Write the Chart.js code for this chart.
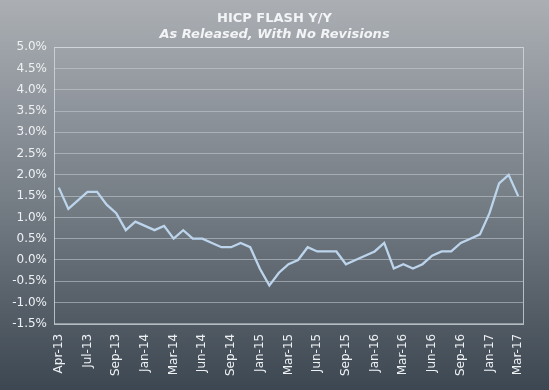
<!DOCTYPE html>
<html>
<head>
<meta charset="utf-8">
<script src="https://cdn.jsdelivr.net/npm/chart.js@4.4.1/dist/chart.umd.min.js"></script>
<style>
  html, body { margin: 0; padding: 0; }
  body { width: 549px; height: 390px; overflow: hidden; }
  #wrap { width: 549px; height: 390px; }
</style>
</head>
<body>
<div id="wrap"><canvas id="hicpChart"></canvas></div>
<script>
// HICP flash y/y, as released (%), one value per month
const values = [
  1.7, 1.2, 1.4, 1.6, 1.6, 1.3, 1.1, 0.7, 0.9, 0.8, 0.7, 0.8,
  0.5, 0.7, 0.5, 0.5, 0.4, 0.3, 0.3, 0.4, 0.3, -0.2, -0.6, -0.3,
  -0.1, 0.0, 0.3, 0.2, 0.2, 0.2, -0.1, 0.0, 0.1, 0.2, 0.4, -0.2,
  -0.1, -0.2, -0.1, 0.1, 0.2, 0.2, 0.4, 0.5, 0.6, 1.1, 1.8, 2.0, 1.5
];

// labels shown on every third month, as on the original axis
const tickLabels = [
  "Apr-13", "Jul-13", "Sep-13", "Jan-14", "Mar-14", "Jun-14", "Sep-14", "Jan-15",
  "Mar-15", "Jun-15", "Sep-15", "Jan-16", "Mar-16", "Jun-16", "Sep-16", "Jan-17", "Mar-17"
];
const labelEvery = 3;

const yMin = -1.5;
const yMax = 5.0;
const yStep = 0.5;

const categories = values.map((v, i) => i % labelEvery === 0 ? tickLabels[i / labelEvery] : "");

// background gradient and plot frame
const backdrop = {
  id: "backdrop",
  beforeDraw(chart) {
    const c = chart.ctx;
    const g = c.createLinearGradient(0, 0, 0, chart.height);
    g.addColorStop(0, "#abafb4");
    g.addColorStop(0.5, "#777f87");
    g.addColorStop(1, "#3d4751");
    c.save();
    c.fillStyle = g;
    c.fillRect(0, 0, chart.width, chart.height);
    c.restore();
  },
  afterDraw(chart) {
    const a = chart.chartArea;
    const c = chart.ctx;
    c.save();
    c.strokeStyle = "rgba(215,220,225,0.75)";
    c.lineWidth = 1;
    c.strokeRect(Math.round(a.left) + 0.5, Math.round(a.top) + 0.5,
      Math.round(a.right - a.left), Math.round(a.bottom - a.top));
    c.restore();
  }
};

const ctx = document.getElementById("hicpChart").getContext("2d");
const hicpChart = new Chart(ctx, {
  type: "line",
  data: {
    labels: categories,
    datasets: [{
      label: "HICP Flash Y/Y",
      data: values,
      borderColor: "#bcd5ec",
      borderWidth: 2.3,
      pointRadius: 0,
      tension: 0,
      fill: false
    }]
  },
  options: {
    responsive: true,
    maintainAspectRatio: false,
    animation: false,
    layout: { padding: { left: 0, right: 0, top: 0, bottom: 4 } },
    plugins: {
      legend: { display: false },
      tooltip: { enabled: false },
      title: {
        display: true,
        text: "HICP FLASH Y/Y",
        color: "#f3f4f6",
        font: { family: "DejaVu Sans", size: 13, weight: "bold" },
        padding: { top: 11, bottom: 0 }
      },
      subtitle: {
        display: true,
        text: "As Released, With No Revisions",
        color: "#f3f4f6",
        font: { family: "DejaVu Sans", size: 13, weight: "bold", style: "italic" },
        padding: { top: 0, bottom: 5 }
      }
    },
    scales: {
      x: {
        offset: true,
        grid: { display: false, drawTicks: false },
        border: { display: false },
        ticks: {
          autoSkip: false,
          maxRotation: 90,
          minRotation: 90,
          padding: 10,
          color: "#eef1f4",
          font: { family: "DejaVu Sans", size: 12 }
        }
      },
      y: {
        min: yMin,
        max: yMax,
        afterFit: s => { s.width = 54; },
        grid: { color: "rgba(200,206,212,0.55)", drawTicks: false, lineWidth: 1 },
        border: { display: false },
        ticks: {
          stepSize: yStep,
          padding: 7,
          color: "#eef1f4",
          font: { family: "DejaVu Sans", size: 12 },
          callback: v => v.toFixed(1) + "%"
        }
      },
      yRight: {
        position: "right",
        min: yMin,
        max: yMax,
        afterFit: s => { s.width = 26; },
        grid: { display: false, drawTicks: false },
        border: { display: false },
        ticks: { display: false }
      }
    }
  },
  plugins: [backdrop]
});
</script>
</body>
</html>
